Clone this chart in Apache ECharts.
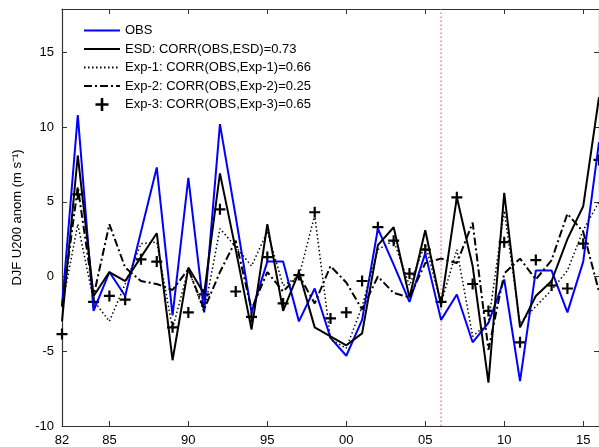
<!DOCTYPE html>
<html>
<head>
<meta charset="utf-8">
<script src="https://cdn.jsdelivr.net/npm/echarts@6/dist/echarts.min.js"></script>
<style>
html,body{margin:0;padding:0;background:#fff;}
#chart{width:599px;height:447px;}
</style>
</head>
<body>
<div id="chart"></div>
<script>
var years = [1982,1983,1984,1985,1986,1987,1988,1989,1990,1991,1992,1993,1994,1995,1996,1997,1998,1999,2000,2001,2002,2003,2004,2005,2006,2007,2008,2009,2010,2011,2012,2013,2014,2015,2016];
var obs  = [-2.0,10.8,-2.3,0.3,-1.3,3.0,7.3,-2.6,6.6,-2.4,10.2,4.0,-2.4,1.0,1.0,-3.0,-0.8,-4.1,-5.3,-2.9,3.2,0.8,-1.7,1.55,-2.9,-1.2,-4.4,-3.1,-0.2,-7.0,0.4,0.4,-2.4,1.0,9.0];
var esd  = [-3.0,8.1,-1.3,0.3,-0.3,1.3,2.9,-5.6,0.6,-1.15,6.9,1.8,-3.55,3.5,-2.3,0.3,-3.4,-4.0,-4.6,-3.8,2.1,3.3,-1.4,3.1,-1.9,5.3,0.7,-7.1,5.6,-3.4,-1.3,-0.3,2.5,4.7,12.0];
var exp1 = [-2.0,3.5,-1.6,-3.0,-0.5,2.2,2.3,-3.5,0.5,-2.4,3.2,2.0,0.7,3.0,-0.6,0.0,4.1,-4.2,-4.8,-2.0,1.8,2.4,-0.6,2.2,-1.8,1.8,-4.0,-3.1,4.4,-3.1,-2.0,-0.9,0.4,3.1,5.0];
var exp2 = [-2.0,6.0,-1.3,3.5,0.6,-0.3,-0.5,-0.9,0.5,-2.2,0.3,2.4,-2.2,0.3,-1.0,0.1,-1.8,0.7,-0.4,-2.2,0.0,-1.1,-1.4,0.9,1.2,0.9,3.6,-4.9,0.2,1.2,-0.2,1.1,4.2,3.0,-1.0];
var exp3 = [-3.85,5.5,-1.7,-1.3,-1.55,1.15,1.0,-3.4,-2.4,-1.2,4.5,-1.0,-2.7,1.3,-1.8,0.1,4.3,-2.8,-2.4,-0.3,3.3,2.4,0.2,1.8,-1.7,5.3,-0.5,-2.3,2.3,-4.4,1.1,-0.6,-0.8,2.2,7.8];
var xTicks = [1982,1985,1990,1995,2000,2005,2010,2015];
var yTicks = [-10,-5,0,5,10,15];
var markYear = 2006;
var yMin = -10, yMax = 17.9;
var names = ['OBS','ESD: CORR(OBS,ESD)=0.73','Exp-1: CORR(OBS,Exp-1)=0.66','Exp-2: CORR(OBS,Exp-2)=0.25','Exp-3: CORR(OBS,Exp-3)=0.65'];

function pairs(v){ return years.map(function(y,i){ return [y, v[i]]; }); }

var FONT = 'Liberation Sans';
var axisLine = {show:true, onZero:false, lineStyle:{color:'#333', width:1.2}};
var tick = {show:true, inside:true, length:5, lineStyle:{color:'#333', width:1}};
var noSym = {opacity:0};

var chart = echarts.init(document.getElementById('chart'), null, {renderer:'canvas'});
chart.setOption({
  animation:false,
  backgroundColor:'#fff',
  textStyle:{fontFamily:FONT},
  grid:{left:62, top:9, width:538, height:418, containLabel:false},
  legend:{
    orient:'vertical', left:83, top:24, padding:0, itemWidth:36, itemHeight:13, itemGap:5.5,
    textStyle:{fontFamily:FONT, fontSize:13, color:'#000'},
    data:[
      {name:names[0], itemStyle:noSym},
      {name:names[1], itemStyle:noSym},
      {name:names[2], itemStyle:noSym},
      {name:names[3], itemStyle:noSym},
      {name:names[4]}
    ]
  },
  xAxis:[{
    type:'value', min:1982, max:2016, position:'bottom',
    axisLine:axisLine,
    axisTick:Object.assign({customValues:xTicks}, tick),
    axisLabel:{customValues:xTicks, margin:8, fontSize:13, color:'#000', fontFamily:FONT,
      formatter:function(v){ var s=String(v%100); return s.length<2?'0'+s:s; }},
    splitLine:{show:false}
  },{
    type:'value', min:1982, max:2016, position:'top',
    axisLine:axisLine,
    axisTick:Object.assign({customValues:xTicks}, tick),
    axisLabel:{show:false}, splitLine:{show:false}
  }],
  yAxis:[{
    type:'value', min:yMin, max:yMax, position:'left',
    axisLine:axisLine,
    axisTick:Object.assign({customValues:yTicks}, tick),
    axisLabel:{customValues:yTicks, margin:8, fontSize:13, color:'#000', fontFamily:FONT},
    splitLine:{show:false},
    name:'DJF U200 anom (m s\u207B\u00B9)', nameLocation:'middle', nameGap:37,
    nameTextStyle:{fontSize:13, color:'#000', fontFamily:FONT}
  },{
    type:'value', min:yMin, max:yMax, position:'right',
    axisLine:axisLine,
    axisTick:Object.assign({customValues:yTicks}, tick),
    axisLabel:{show:false}, splitLine:{show:false}
  }],
  series:[{
    name:'ref2006', type:'line', data:[[markYear,yMin],[markYear,yMax]], symbol:'none', silent:true,
    lineStyle:{color:'#f04848', width:1, type:[1.5,2.5]}, itemStyle:{color:'#f04848'}, z:1
  },{
    name:names[0], type:'line', data:pairs(obs), symbol:'none',
    lineStyle:{color:'#0000ff', width:2}, itemStyle:{color:'#0000ff'}
  },{
    name:names[1], type:'line', data:pairs(esd), symbol:'none',
    lineStyle:{color:'#000', width:2}, itemStyle:{color:'#000'}
  },{
    name:names[2], type:'line', data:pairs(exp1), symbol:'none',
    lineStyle:{color:'#000', width:1.5, type:[1.5,2.5]}, itemStyle:{color:'#000'}
  },{
    name:names[3], type:'line', data:pairs(exp2), symbol:'none',
    lineStyle:{color:'#000', width:2, type:[8,3,2,3]}, itemStyle:{color:'#000'}
  },{
    name:names[4], type:'scatter', data:pairs(exp3),
    symbol:'path://M-1,-5 H1 V-1 H5 V1 H1 V5 H-1 V1 H-5 V-1 H-1 Z',
    symbolSize:11, itemStyle:{color:'#000', opacity:1}
  }]
});
</script>
</body>
</html>
